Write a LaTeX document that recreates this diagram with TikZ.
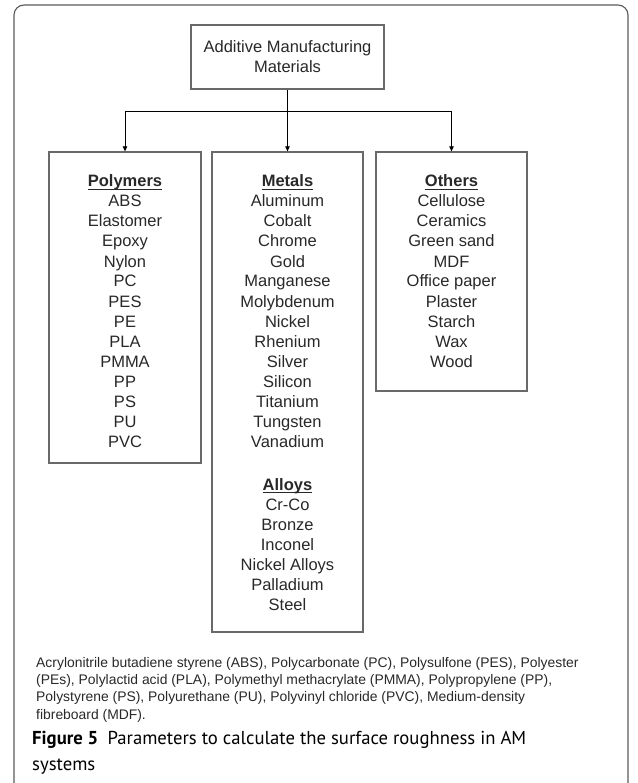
\documentclass[tikz,border=0pt]{standalone}
\usepackage{fontspec}
\setmainfont{Liberation Sans}
\newfontfamily\capfont{PT Sans}
\usetikzlibrary{arrows.meta}
\definecolor{txt}{RGB}{40,40,40}
\definecolor{boxc}{RGB}{105,105,105}
\definecolor{framec}{RGB}{90,90,90}
\begin{document}
\begin{tikzpicture}[x=1pt,y=-1pt,
  box/.style={draw=boxc,line width=1.3pt,inner sep=0pt},
  item/.style={anchor=base,inner sep=0pt,text=txt,font=\fontsize{16.5}{20}\selectfont},
  head/.style={item,font=\fontsize{16.5}{20}\selectfont\bfseries},
  uline/.style={draw=txt,line width=1pt},
  conn/.style={draw=black,line width=0.8pt},
  arr/.style={conn,-{Triangle[length=5pt,width=4.5pt]}},
  frame/.style={draw=framec,line width=1.1pt,rounded corners=10pt}]
\useasboundingbox (0,0) rectangle (637,783);
\begin{scope}
\clip (0,0) rectangle (637,783);
\draw[frame] (14,800) -- (14,5) -- (628,5) -- (628,800);
\end{scope}

% boxes
\node[box,minimum width=193pt,minimum height=64pt,align=center,text=txt,
      font=\fontsize{16.5}{20}\selectfont] (top) at (287.5,57) {Additive Manufacturing\\Materials};
\node[box,minimum width=152pt,minimum height=311pt] (poly) at (125,307.5) {};
\node[box,minimum width=151pt,minimum height=480pt] (met) at (287.5,392) {};
\node[box,minimum width=151pt,minimum height=239pt] (oth) at (451.5,271.5) {};

% connectors
\coordinate (j) at (287.5,111);
\draw[conn] (top.south) -- (j);
\draw[conn] (poly.north |- j) -- (oth.north |- j);
\draw[arr] (poly.north |- j) -- (poly.north);
\draw[arr] (j) -- (met.north);
\draw[arr] (oth.north |- j) -- (oth.north);

% Polymers
\node[head] (polh) at (125,187) {Polymers};
\draw[uline] ([yshift=-2.8pt]polh.base west) -- ([yshift=-2.8pt]polh.base east);
\foreach \t [count=\i] in {ABS,Elastomer,Epoxy,Nylon,PC,PES,PE,PLA,PMMA,PP,PS,PU,PVC}
  \node[item] (pol\i) at (125,187+20*\i) {\t};

% Metals
\node[head] (meth) at (287.5,187) {Metals};
\draw[uline] ([yshift=-2.8pt]meth.base west) -- ([yshift=-2.8pt]meth.base east);
\foreach \t [count=\i] in {Aluminum,Cobalt,Chrome,Gold,Manganese,Molybdenum,Nickel,Rhenium,Silver,Silicon,Titanium,Tungsten,Vanadium}
  \node[item] (met\i) at (287.5,187+20*\i) {\t};
\node[head] (alh) at (287.5,490) {Alloys};
\draw[uline] ([yshift=-2.8pt]alh.base west) -- ([yshift=-2.8pt]alh.base east);
\foreach \t [count=\i] in {Cr-Co,Bronze,Inconel,Nickel Alloys,Palladium,Steel}
  \node[item] (al\i) at (287.5,490+20*\i) {\t};

% Others
\node[head] (othh) at (451.5,187) {Others};
\draw[uline] ([yshift=-2.8pt]othh.base west) -- ([yshift=-2.8pt]othh.base east);
\foreach \t [count=\i] in {Cellulose,Ceramics,Green sand,MDF,Office paper,Plaster,Starch,Wax,Wood}
  \node[item] (oth\i) at (451.5,187+20*\i) {\t};

% footnote
\node[anchor=north west,inner sep=0pt,align=left,text=txt,
      font=\fontsize{13.9}{17.3}\selectfont] (foot) at (36,657)
 {Acrylonitrile butadiene styrene (ABS), Polycarbonate (PC), Polysulfone (PES), Polyester\\
  (PEs), Polylactid acid (PLA), Polymethyl methacrylate (PMMA), Polypropylene (PP),\\
  Polystyrene (PS), Polyurethane (PU), Polyvinyl chloride (PVC), Medium-density\\
  fibreboard (MDF).};

% caption
\node[anchor=north west,inner sep=0pt,align=left,text=black,
      font=\capfont\fontsize{18.7}{26}\selectfont] (cap) at (32,731)
 {\textbf{Figure 5}\hspace{0.5em}Parameters to calculate the surface roughness in AM\\systems};
\end{tikzpicture}
\end{document}
